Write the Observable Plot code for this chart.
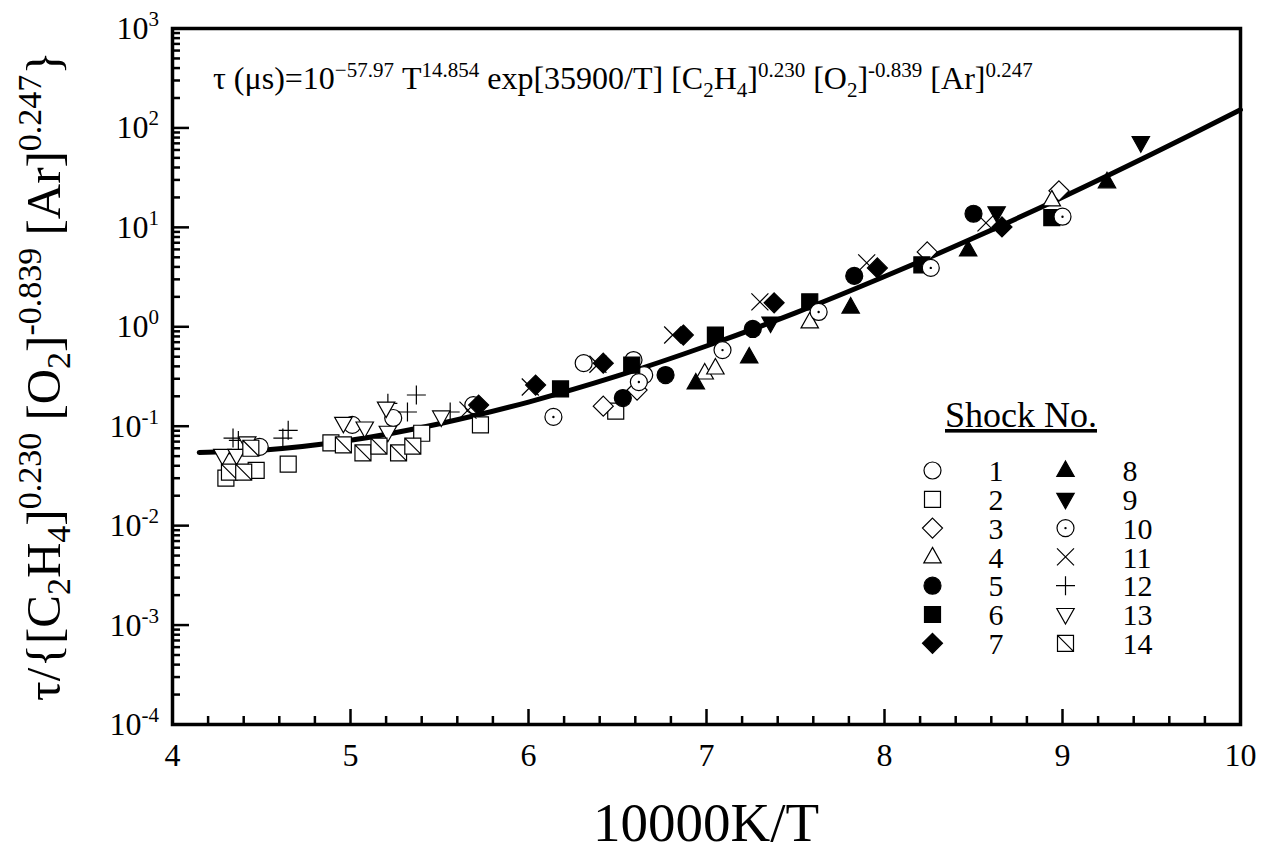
<!DOCTYPE html>
<html><head><meta charset="utf-8">
<script src="https://cdn.jsdelivr.net/npm/d3@7"></script>
<script src="https://cdn.jsdelivr.net/npm/@observablehq/plot@0.6"></script>
<style>
body{margin:0;background:#fff;}
#chart{width:1264px;height:854px;}
text{white-space:pre;}
</style>
</head><body><div id="chart"></div>
<script>
// ---------- data ----------
const xTicks = [4, 5, 6, 7, 8, 9, 10];
const xMinor = [4.2,4.4,4.6,4.8,5.2,5.4,5.6,5.8,6.2,6.4,6.6,6.8,7.2,7.4,7.6,7.8,8.2,8.4,8.6,8.8,9.2,9.4,9.6,9.8];
const yDecades = [1e-4, 1e-3, 1e-2, 1e-1, 1e0, 1e1, 1e2, 1e3];
const yExponents = ["-4", "-3", "-2", "-1", "0", "1", "2", "3"];
const yMinorSteps = [2, 3, 4, 5, 6, 7, 8, 9];

// fitted correlation curve
const fitX = [4.15, 4.5, 5, 5.5, 6, 6.5, 7, 7.5, 8, 8.5, 9, 9.5, 10];
const fitY = [0.0544, 0.0574, 0.0723, 0.106, 0.175, 0.320, 0.641, 1.38, 3.20, 7.81, 20.1, 54.3, 152];

// shock data [10000/T, normalized tau]
const shock1  = [[4.49,0.062],[5.01,0.103],[5.24,0.121],[5.69,0.163],[6.31,0.431],[6.59,0.463],[6.65,0.327]];
const shock2  = [[4.30,0.030],[4.47,0.036],[4.65,0.0415],[4.89,0.068],[5.40,0.085],[5.73,0.103],[6.49,0.142]];
const shock3  = [[6.42,0.159],[6.61,0.231],[8.24,5.66],[8.98,23.3]];
const shock4  = [[6.99,0.343],[7.05,0.385],[7.58,1.12],[8.94,18.9]];
const shock5  = [[6.53,0.192],[6.77,0.327],[7.26,0.951],[7.83,3.25],[8.50,13.7]];
const shock6  = [[6.18,0.237],[6.58,0.412],[7.05,0.826],[7.58,1.78],[8.21,4.19],[8.94,12.5]];
const shock7  = [[5.72,0.163],[6.04,0.259],[6.42,0.431],[6.87,0.826],[7.38,1.74],[7.96,3.91],[8.66,10.1]];
const shock8  = [[6.94,0.272],[7.24,0.497],[7.81,1.58],[8.47,5.93],[9.25,28.7]];
const shock9  = [[7.36,1.09],[8.63,14.0],[9.44,71.0]];
const shock10 = [[6.14,0.124],[6.62,0.278],[7.09,0.583],[7.63,1.41],[8.26,3.91],[9.00,12.8]];
const shock11 = [[5.66,0.145],[6.01,0.248],[6.39,0.42],[6.81,0.826],[7.30,1.78],[7.90,4.39],[8.57,11.1]];
const shock12 = [[4.34,0.076],[4.37,0.072],[4.62,0.076],[4.65,0.091],[5.21,0.17],[5.32,0.139],[5.37,0.206],[5.56,0.139]];
const shock13 = [[4.28,0.051],[4.36,0.051],[4.42,0.068],[4.96,0.107],[5.08,0.096],[5.20,0.152],[5.21,0.087],[5.51,0.124]];
const shock14 = [[4.32,0.0345],[4.40,0.0345],[4.44,0.060],[4.96,0.065],[5.07,0.054],[5.16,0.063],[5.27,0.054],[5.35,0.063]];

const legendLabels = ["1","2","3","4","5","6","7","8","9","10","11","12","13","14"];

// ---------- symbols ----------
const TAU = 2 * Math.PI;
const symCircle = {draw(c){ c.moveTo(8.5,0); c.arc(0,0,8.5,0,TAU); c.closePath(); }};
const symSquare = {draw(c){ c.rect(-8,-8,16,16); }};
const symDiamond = {draw(c){ c.moveTo(0,-10); c.lineTo(10,0); c.lineTo(0,10); c.lineTo(-10,0); c.closePath(); }};
const symTriUp = {draw(c){ c.moveTo(0,-9.5); c.lineTo(8.7,6); c.lineTo(-8.7,6); c.closePath(); }};
const symTriDown = {draw(c){ c.moveTo(0,9.5); c.lineTo(8.7,-6); c.lineTo(-8.7,-6); c.closePath(); }};
const symDotCircle = {draw(c){ c.moveTo(8.5,0); c.arc(0,0,8.5,0,TAU); c.closePath(); c.moveTo(0.6,0); c.arc(0,0,0.6,0,TAU); c.closePath(); }};
const symTimes = {draw(c){ c.moveTo(-8.5,-8.5); c.lineTo(8.5,8.5); c.moveTo(8.5,-8.5); c.lineTo(-8.5,8.5); }};
const symPlus = {draw(c){ c.moveTo(-9.5,0); c.lineTo(9.5,0); c.moveTo(0,-9.5); c.lineTo(0,9.5); }};
const symSqDiag = {draw(c){ c.rect(-8,-8,16,16); c.moveTo(-8,-8); c.lineTo(8,8); }};

const series = [
  {data: shock1,  symbol: symCircle,    fill: "white"},
  {data: shock2,  symbol: symSquare,    fill: "white"},
  {data: shock3,  symbol: symDiamond,   fill: "white"},
  {data: shock4,  symbol: symTriUp,     fill: "white"},
  {data: shock5,  symbol: symCircle,    fill: "black"},
  {data: shock6,  symbol: symSquare,    fill: "black"},
  {data: shock7,  symbol: symDiamond,   fill: "black"},
  {data: shock8,  symbol: symTriUp,     fill: "black"},
  {data: shock9,  symbol: symTriDown,   fill: "black"},
  {data: shock10, symbol: symDotCircle, fill: "white"},
  {data: shock11, symbol: symTimes,     fill: "none"},
  {data: shock12, symbol: symPlus,      fill: "none"},
  {data: shock13, symbol: symTriDown,   fill: "white"},
  {data: shock14, symbol: symSqDiag,    fill: "white"}
];

// ---------- layout ----------
const W = 1264, H = 854, mL = 172, mR = 24, mT = 28, mB = 130;
const fw = W - mL - mR, fh = H - mT - mB;
const serif = "'Liberation Serif', 'Times New Roman', Times, serif";

const yMinor = yDecades.slice(0, -1).flatMap(d => yMinorSteps.map(k => d * k));
const fit = fitX.map((x, i) => ({x, y: fitY[i]}));

const dotMarks = series.map(s => Plot.dot(s.data, {
  x: d => d[0], y: d => d[1], symbol: s.symbol, fill: s.fill, stroke: "black", strokeWidth: 1.2
}));

// legend (positioned relative to the frame)
const legendMarks = [];
const legCol = [932, 1065], legNum = [988, 1122];
const legRow0 = 470, legStep = 28.8;
series.forEach((s, i) => {
  const col = i < 7 ? 0 : 1, row = i % 7;
  const yy = legRow0 + row * legStep - mT;
  legendMarks.push(Plot.dot([0], {x: null, y: null, frameAnchor: "top-left", dx: legCol[col] - mL, dy: yy,
    symbol: s.symbol, fill: s.fill, stroke: "black", strokeWidth: 1.2}));
  legendMarks.push(Plot.text([legendLabels[i]], {x: null, y: null, text: d => d, frameAnchor: "top-left",
    dx: legNum[col] - mL, dy: yy + 1, textAnchor: "start", lineAnchor: "middle", fontSize: 30, fill: "black"}));
});

const plot = Plot.plot({
  width: W, height: H,
  marginLeft: mL, marginRight: mR, marginTop: mT, marginBottom: mB,
  style: {fontFamily: serif, background: "white", color: "black", overflow: "visible"},
  x: {domain: [4, 10]},
  y: {type: "log", domain: [1e-4, 1e3], axis: null},
  marks: [
    Plot.tickX(xMinor, {x: d => d, insetTop: fh - 8, strokeWidth: 2.5}),
    Plot.tickX(xTicks, {x: d => d, insetTop: fh - 15, strokeWidth: 2.5}),
    Plot.tickY(yMinor, {y: d => d, insetRight: fw - 8, strokeWidth: 2.5}),
    Plot.tickY(yDecades, {y: d => d, insetRight: fw - 17, strokeWidth: 2.5}),
    Plot.axisX({ticks: xTicks, tickFormat: d => String(d), tickSize: 0, tickPadding: 19, fontSize: 32, label: null}),
    Plot.line(fit, {x: "x", y: "y", stroke: "black", strokeWidth: 5, curve: "catmull-rom"}),
    ...dotMarks,
    ...legendMarks,
    Plot.frame({stroke: "black", strokeWidth: 3.5})
  ]
});
document.getElementById("chart").appendChild(plot);

// ---------- rich text (super/subscripts) ----------
const svg = d3.select(plot);
function rich(sel, parts, smallSize, supDy, subDy) {
  let cur = 0;
  parts.forEach(([s, k]) => {
    const target = k === "sup" ? supDy : k === "sub" ? subDy : 0;
    const ts = sel.append("tspan").attr("dy", target - cur).text(s);
    if (k) ts.attr("font-size", smallSize);
    cur = target;
  });
}

// y tick labels 10^n
const ys = plot.scale("y");
yDecades.forEach((v, i) => {
  const t = svg.append("text").attr("x", 159).attr("y", ys.apply(v) + 11)
    .attr("text-anchor", "end").attr("font-size", 32).attr("fill", "black").attr("font-family", serif);
  rich(t, [["10", ""], [yExponents[i], "sup"]], 21, -13, 0);
});

// equation
const eq = svg.append("text").attr("x", 213).attr("y", 89).attr("text-anchor", "start")
  .attr("font-size", 32).attr("fill", "black").attr("font-family", serif);
rich(eq, [["τ (μs)=10",""],["−57.97","sup"],[" T",""],["14.854","sup"],[" exp[35900/T] [C",""],["2","sub"],["H",""],["4","sub"],["]",""],["0.230","sup"],[" [O",""],["2","sub"],["]",""],["-0.839","sup"],[" [Ar]",""],["0.247","sup"]], 21, -12, 8);

// legend title
svg.append("text").attr("x", 945).attr("y", 427).attr("text-anchor", "start").attr("font-size", 36).attr("fill", "black")
  .attr("font-family", serif).attr("text-decoration", "underline").text("Shock No.");

// x label
svg.append("text").attr("x", (mL + W - mR) / 2).attr("y", 841).attr("text-anchor", "middle")
  .attr("font-size", 55).attr("fill", "black").attr("font-family", serif).text("10000K/T");

// y label
const yl = svg.append("text").attr("transform", `translate(60,${mT + fh / 2}) rotate(-90)`)
  .attr("text-anchor", "middle").attr("font-size", 49).attr("fill", "black").attr("font-family", serif);
rich(yl, [["τ/{[C",""],["2","sub"],["H",""],["4","sub"],["]",""],["0.230","sup"],[" [O",""],["2","sub"],["]",""],["-0.839","sup"],[" [Ar]",""],["0.247","sup"],["}",""]], 34, -19, 10);
</script>
</body></html>
